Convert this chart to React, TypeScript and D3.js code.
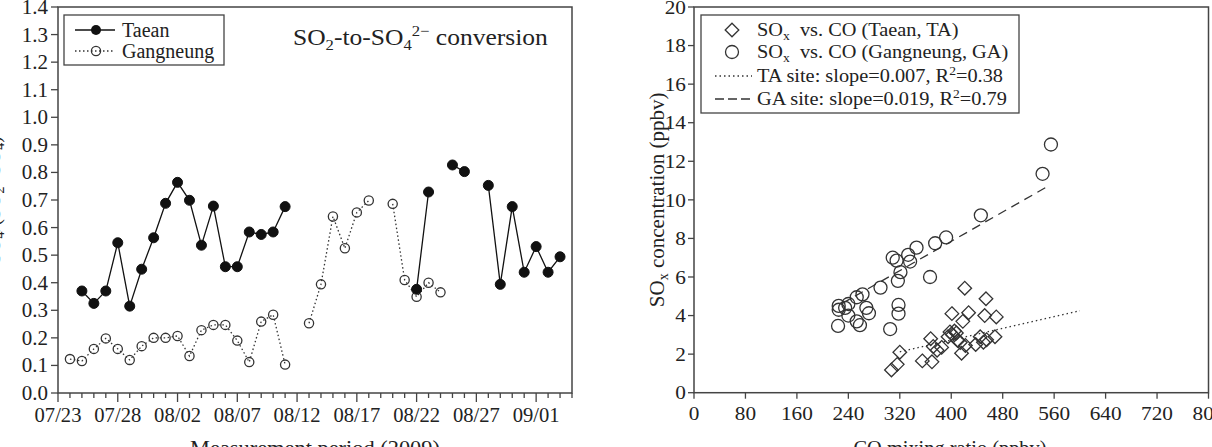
import React from 'react';
import * as d3 from 'd3';

// ---------- Left panel data (day offset from 07/23/2009) ----------
const dateTickLabels = ['07/23', '07/28', '08/02', '08/07', '08/12', '08/17', '08/22', '08/27', '09/01'];
const yTicksLeft = [0, 0.1, 0.2, 0.3, 0.4, 0.5, 0.6, 0.7, 0.8, 0.9, 1.0, 1.1, 1.2, 1.3, 1.4];

const taeanDays = [2, 3, 4, 5, 6, 7, 8, 9, 10, 11, 12, 13, 14, 15, 16, 17, 18, 19, 30, 31, 33, 34, 36, 37, 38, 39, 40, 41, 42];
const taeanVals = [0.37, 0.325, 0.37, 0.545, 0.315, 0.449, 0.563, 0.688, 0.764, 0.699, 0.536, 0.678, 0.458, 0.458, 0.584, 0.575, 0.584, 0.676, 0.376, 0.729, 0.827, 0.803, 0.753, 0.394, 0.676, 0.438, 0.531, 0.438, 0.494];

const gangDays = [1, 2, 3, 4, 5, 6, 7, 8, 9, 10, 11, 12, 13, 14, 15, 16, 17, 18, 19, 21, 22, 23, 24, 25, 26, 28, 29, 30, 31, 32];
const gangVals = [0.123, 0.116, 0.16, 0.198, 0.16, 0.12, 0.17, 0.2, 0.2, 0.207, 0.134, 0.228, 0.247, 0.247, 0.19, 0.112, 0.259, 0.284, 0.103, 0.253, 0.394, 0.64, 0.525, 0.655, 0.698, 0.686, 0.41, 0.349, 0.40, 0.365];

// ---------- Right panel data ----------
const coTicks = [0, 80, 160, 240, 320, 400, 480, 560, 640, 720, 800];
const soxTicks = [0, 2, 4, 6, 8, 10, 12, 14, 16, 18, 20];

const taCO = [307, 316, 320, 355, 370, 368, 372, 378, 385, 395, 398, 402, 405, 408, 410, 401, 414, 416, 418, 421, 422, 427, 438, 445, 450, 452, 455, 454, 468, 470];
const taSOx = [1.18, 1.47, 2.1, 1.65, 1.6, 2.8, 2.4, 2.2, 2.35, 2.9, 3.15, 3.0, 3.2, 3.1, 2.7, 4.1, 2.6, 2.05, 3.7, 5.42, 2.45, 4.15, 2.5, 2.9, 2.62, 4.0, 2.75, 4.87, 2.9, 3.93];

const gaCO = [225, 225, 224, 235, 240, 240, 253, 262, 253, 258, 268, 272, 290, 305, 309, 315, 317, 318, 318, 321, 333, 336, 346, 367, 375, 392, 446, 542, 555];
const gaSOx = [4.5, 4.3, 3.46, 4.4, 4.0, 4.6, 4.95, 5.1, 3.7, 3.5, 4.4, 4.12, 5.45, 3.3, 7.0, 6.85, 5.8, 4.55, 4.1, 6.25, 7.15, 6.8, 7.52, 6.0, 7.75, 8.05, 9.2, 11.35, 12.87];

// fitted lines: slope, intercept, x-range
const taFit = { slope: 0.0076, intercept: -0.31, from: 320, to: 600 };
const gaFit = { slope: 0.019, intercept: 0.25, from: 230, to: 552 };

const FONT = '"Liberation Serif", "Times New Roman", serif';
const AX = '#444';
const TXT = '#222';

// text with a slight horizontal stretch, like the reference figure
function ST(props: { x: number; y: number; sx?: number; size: number; anchor?: string; dy?: string; children: React.ReactNode }) {
  const { x, y, sx = 1.12, size, anchor = 'start', dy, children } = props;
  return (
    <text transform={`translate(${x},${y}) scale(${sx},1)`} textAnchor={anchor} fontSize={size} dy={dy} fill={TXT}>
      {children}
    </text>
  );
}

export default function App() {
  const xL = d3.scaleLinear().domain([0, 43]).range([58, 572]);
  const yL = d3.scaleLinear().domain([0, 1.4]).range([393, 7]);
  const xR = d3.scaleLinear().domain([0, 800]).range([694, 1208.5]);
  const yR = d3.scaleLinear().domain([0, 20]).range([392.7, 7]);

  const allDays = d3.range(0, 44);
  const taeanMap = new Map(taeanDays.map((d, i) => [d, taeanVals[i]]));
  const gangMap = new Map(gangDays.map((d, i) => [d, gangVals[i]]));
  const taeanSeries = allDays.map((d) => ({ d, v: taeanMap.has(d) ? taeanMap.get(d)! : null }));
  const gangSeries = allDays.map((d) => ({ d, v: gangMap.has(d) ? gangMap.get(d)! : null }));

  const lineL = d3
    .line<{ d: number; v: number | null }>()
    .defined((p) => p.v != null)
    .x((p) => xL(p.d))
    .y((p) => yL(p.v as number));

  const fitPath = (f: typeof taFit) =>
    d3.line<number>().x((c) => xR(c)).y((c) => yR(f.slope * c + f.intercept))([f.from, f.to]) || '';

  const diamond = (cx: number, cy: number, r: number) =>
    `M${cx},${cy - r}L${cx + r},${cy}L${cx},${cy + r}L${cx - r},${cy}Z`;

  const x0L = xL(0), x1L = xL(43), y0L = yL(0), y1L = yL(1.4);
  const x0R = xR(0), x1R = xR(800), y0R = yR(0), y1R = yR(20);

  return (
    <svg width={1212} height={447} style={{ position: 'absolute', left: 0, top: 0, background: '#fff' }} fontFamily={FONT}>
      <rect x={0} y={0} width={1212} height={447} fill="#fff" />

      {/* ================= LEFT PANEL ================= */}
      <text transform={`translate(0,${(y0L + y1L) / 2}) rotate(-90)`} textAnchor="middle" fontSize={20} fill={TXT}>
        SO<tspan fontSize={14} dy={4}>4</tspan><tspan dy={-4}>/(SO</tspan><tspan fontSize={14} dy={4}>2</tspan><tspan dy={-4}>+SO</tspan><tspan fontSize={14} dy={4}>4</tspan><tspan dy={-4}>)</tspan>
      </text>

      <rect x={x0L} y={y1L} width={x1L - x0L} height={y0L - y1L} fill="none" stroke={AX} strokeWidth={1.5} />

      {yTicksLeft.map((t) => (
        <g key={'yl' + t}>
          <line x1={x0L - 7} x2={x0L} y1={yL(t)} y2={yL(t)} stroke={AX} strokeWidth={1.3} />
          <ST x={x0L - 10} y={yL(t)} dy="0.35em" anchor="end" size={20} sx={1.05}>
            {d3.format('.1f')(t)}
          </ST>
        </g>
      ))}

      {allDays.map((d) => (
        <line key={'xm' + d} x1={xL(d)} x2={xL(d)} y1={y0L} y2={y0L + (d % 5 === 0 ? 9 : 5)} stroke={AX} strokeWidth={1.3} />
      ))}
      {dateTickLabels.map((lab, i) => (
        <ST key={'xl' + lab} x={xL(i * 5)} y={422} anchor="middle" size={20} sx={1.03}>
          {lab}
        </ST>
      ))}
      <ST x={315} y={455} anchor="middle" size={20}>
        Measurement period (2009)
      </ST>

      <path d={lineL(gangSeries) || ''} fill="none" stroke="#333" strokeWidth={1.3} strokeDasharray="1.5,2.5" />
      {gangDays.map((d, i) => (
        <circle key={'g' + d} cx={xL(d)} cy={yL(gangVals[i])} r={4.6} fill="none" stroke="#333" strokeWidth={1.3} />
      ))}

      <path d={lineL(taeanSeries) || ''} fill="none" stroke="#111" strokeWidth={1.3} />
      {taeanDays.map((d, i) => (
        <circle key={'t' + d} cx={xL(d)} cy={yL(taeanVals[i])} r={5} fill="#111" stroke="#111" />
      ))}

      <rect x={64} y={15} width={160} height={50} fill="#fff" stroke={AX} strokeWidth={1.3} />
      <line x1={75} x2={115} y1={30} y2={30} stroke="#111" strokeWidth={1.3} />
      <circle cx={96} cy={30} r={5} fill="#111" />
      <text x={122} y={37} fontSize={20} fill={TXT}>Taean</text>
      <line x1={75} x2={115} y1={51} y2={51} stroke="#333" strokeWidth={1.3} strokeDasharray="1.5,2.5" />
      <circle cx={96} cy={51} r={4.6} fill="none" stroke="#333" strokeWidth={1.3} />
      <text x={122} y={58} fontSize={20} fill={TXT}>Gangneung</text>

      <ST x={293} y={45} size={23} sx={1.11}>
        SO<tspan fontSize={15} dy={5}>2</tspan><tspan dy={-5}>-to-SO</tspan><tspan fontSize={15} dy={5}>4</tspan><tspan fontSize={15} dy={-14}>2−</tspan><tspan dy={9}> conversion</tspan>
      </ST>

      {/* ================= RIGHT PANEL ================= */}
      <text transform={`translate(664,${(y0R + y1R) / 2}) rotate(-90)`} textAnchor="middle" fontSize={21} fill={TXT}>
        SO<tspan fontSize={14} dy={4}>x</tspan><tspan dy={-4}> concentration (ppbv)</tspan>
      </text>

      <rect x={x0R} y={y1R} width={x1R - x0R} height={y0R - y1R} fill="none" stroke={AX} strokeWidth={1.5} />

      {soxTicks.map((t) => (
        <g key={'yr' + t}>
          <line x1={x0R - 6} x2={x0R} y1={yR(t)} y2={yR(t)} stroke={AX} strokeWidth={1.3} />
          <ST x={x0R - 8} y={yR(t)} dy="0.35em" anchor="end" size={19} sx={1.12}>
            {t}
          </ST>
        </g>
      ))}
      {coTicks.map((t) => (
        <g key={'xr' + t}>
          <line x1={xR(t)} x2={xR(t)} y1={y0R} y2={y0R + 6} stroke={AX} strokeWidth={1.3} />
          <ST x={xR(t)} y={420} anchor="middle" size={19} sx={1.12}>
            {t}
          </ST>
        </g>
      ))}
      <ST x={950} y={455} anchor="middle" size={20} sx={1.02}>
        CO mixing ratio (ppbv)
      </ST>

      <path d={fitPath(taFit)} fill="none" stroke="#333" strokeWidth={1.3} strokeDasharray="1.5,3" />
      <path d={fitPath(gaFit)} fill="none" stroke="#333" strokeWidth={1.3} strokeDasharray="9,6" />

      {gaCO.map((c, i) => (
        <circle key={'ga' + i} cx={xR(c)} cy={yR(gaSOx[i])} r={6.5} fill="none" stroke="#333" strokeWidth={1.3} />
      ))}
      {taCO.map((c, i) => (
        <path key={'ta' + i} d={diamond(xR(c), yR(taSOx[i]), 6.8)} fill="none" stroke="#333" strokeWidth={1.3} />
      ))}

      <rect x={701} y={15} width={318} height={98} fill="#fff" stroke={AX} strokeWidth={1.3} />
      <path d={diamond(732, 30, 6.8)} fill="none" stroke="#333" strokeWidth={1.3} />
      <ST x={757} y={36} size={18} sx={1.13}>
        SO<tspan fontSize={12} dy={4}>x</tspan><tspan dy={-4}>{'\u00a0 vs. CO (Taean, TA)'}</tspan>
      </ST>
      <circle cx={732} cy={52} r={6.5} fill="none" stroke="#333" strokeWidth={1.3} />
      <ST x={757} y={58} size={18} sx={1.13}>
        SO<tspan fontSize={12} dy={4}>x</tspan><tspan dy={-4}>{'\u00a0 vs. CO (Gangneung, GA)'}</tspan>
      </ST>
      <line x1={715} x2={752} y1={76} y2={76} stroke="#333" strokeWidth={1.3} strokeDasharray="1.5,3" />
      <ST x={757} y={82} size={18} sx={1.13}>
        TA site: slope=0.007, R<tspan fontSize={12} dy={-7}>2</tspan><tspan dy={7}>=0.38</tspan>
      </ST>
      <line x1={715} x2={752} y1={99} y2={99} stroke="#333" strokeWidth={1.3} strokeDasharray="9,4" />
      <ST x={757} y={105} size={18} sx={1.13}>
        GA site: slope=0.019, R<tspan fontSize={12} dy={-7}>2</tspan><tspan dy={7}>=0.79</tspan>
      </ST>
    </svg>
  );
}
